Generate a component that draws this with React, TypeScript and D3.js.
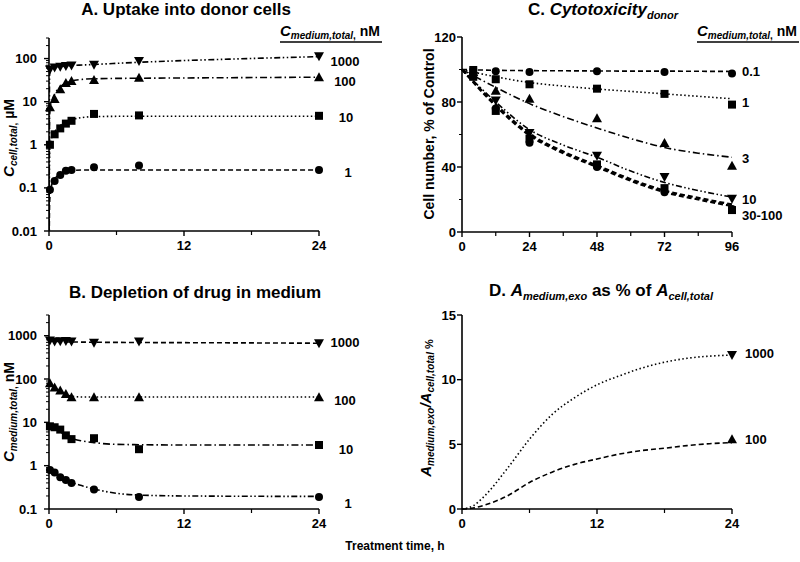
import React from "react";
import * as d3 from "d3";

const FONT = "'Liberation Sans', Arial, Helvetica, sans-serif";

// sampling times (h) for panels A and B
const timesAB = [0.083, 0.5, 1, 1.5, 2, 4, 8, 24];
// A. uptake into donor cells, C cell,total (uM)
const uptake1 = [0.09, 0.145, 0.2, 0.25, 0.26, 0.3, 0.33, 0.26];
const uptake10 = [1.0, 1.75, 2.4, 3.1, 3.6, 5.2, 4.8, 4.7];
const uptake100 = [7.4, 11.5, 19.5, 27, 30, 32, 36, 37];
const uptake1000 = [56, 62, 65, 67, 69, 72, 88, 113];
// fitted lines for A
const fitTimeA = [0, 0.05, 0.1, 0.25, 0.5, 1, 1.5, 2, 3, 4, 8, 12, 16, 20, 24];
const fitA1 = [0.001, 0.04, 0.07, 0.12, 0.16, 0.21, 0.24, 0.25, 0.26, 0.26, 0.26, 0.26, 0.26, 0.26, 0.26];
const fitA10 = [0.001, 0.6, 1.0, 1.5, 2.0, 2.8, 3.4, 3.8, 4.3, 4.5, 4.6, 4.6, 4.6, 4.6, 4.6];
const fitA100 = [0.001, 4, 7, 10.5, 15, 22, 27, 30, 33, 34, 35, 35.5, 36, 36.5, 37];
const fitA1000 = [0.001, 40, 52, 58, 62, 65, 67, 69, 71, 73, 82, 90, 97, 104, 111];

// B. depletion in medium, C medium,total (nM)
const medium1000 = [770, 730, 745, 750, 730, 690, 730, 670];
const medium100 = [80, 64, 54, 45, 38, 38, 38, 38];
const medium10 = [8.1, 7.7, 6.8, 5.0, 4.1, 4.3, 2.4, 3.0];
const medium1 = [0.79, 0.7, 0.54, 0.47, 0.4, 0.28, 0.19, 0.19];
const fitTimeB = [0, 0.5, 1, 1.5, 2, 3, 4, 6, 8, 12, 24];
const fitB1000 = [760, 740, 730, 720, 715, 710, 705, 700, 695, 690, 670];
const fitB100 = [84, 64, 52, 44, 40, 38.5, 38.5, 38.5, 38.5, 38.5, 38.5];
const fitB10 = [8.6, 7.2, 6.0, 5.0, 4.3, 3.7, 3.4, 3.1, 3.05, 3.0, 3.0];
const fitB1 = [0.85, 0.7, 0.58, 0.49, 0.42, 0.34, 0.29, 0.23, 0.21, 0.2, 0.195];

// C. cytotoxicity, cell number % of control
const timesC = [4, 12, 24, 48, 72, 96];
const cyto01 = [99.7, 99, 98.5, 99, 98.5, 97.5];
const cyto1 = [99.7, 94, 90.9, 88.2, 85, 78.4];
const cyto3 = [98.5, 87, 82, 70, 54.8, 40.8];
const cyto10 = [96, 81, 61, 47, 33.8, 20.5];
const cyto30 = [96.5, 76, 55, 40, 24.5, 14.2];
const cyto100 = [95.5, 74.5, 57.5, 41.6, 27, 13.5];
const fitTimeC = [0, 12, 24, 36, 48, 60, 72, 84, 96];
const fitC01 = [100, 99.5, 99.3, 99.2, 99.1, 99, 99, 98.9, 98.8];
const fitC1 = [100, 95.5, 92, 89.8, 88, 86.5, 85, 83.5, 82];
const fitC3 = [100, 89, 79, 71, 64, 57.5, 52, 48.5, 46];
const fitC10 = [100, 80, 63, 53.5, 46, 37.5, 30.5, 25.5, 21.5];
const fitC30 = [100, 78.5, 60.5, 49.5, 41, 32.5, 25.5, 21, 17];
const fitC100 = [100, 77.5, 59.5, 48.5, 40, 31.5, 24.5, 20, 16];

// D. A medium,exo as % of A cell,total
const timesD = [24];
const exo1000 = [11.9];
const exo100 = [5.4];
const fitTimeD = [0, 1, 2, 4, 6, 8, 10, 12, 14, 16, 18, 20, 22, 24];
const fitD1000 = [0, 0.25, 1.0, 3.1, 5.4, 7.3, 8.6, 9.6, 10.3, 10.9, 11.35, 11.65, 11.82, 11.9];
const fitD100 = [0, 0.08, 0.3, 1.0, 2.05, 2.85, 3.45, 3.87, 4.25, 4.52, 4.7, 4.9, 5.05, 5.13];

const DASH: Record<string, string> = {
  dashed: "5,3",
  dotted: "1.5,2.5",
  dashDot: "7,3,1.5,3",
  dashDotDot: "6,2.5,1.5,2.5,1.5,2.5",
};

type Shape = "circle" | "square" | "up" | "down";

function Marker({ shape, x, y }: { shape: Shape; x: number; y: number }) {
  if (shape === "circle") return <circle cx={x} cy={y} r={4} fill="#000" />;
  if (shape === "square") return <rect x={x - 4} y={y - 4} width={8} height={8} fill="#000" />;
  if (shape === "up")
    return <path d={`M${x},${y - 5}L${x + 5},${y + 4}L${x - 5},${y + 4}Z`} fill="#000" />;
  return <path d={`M${x},${y + 5}L${x + 5},${y - 4}L${x - 5},${y - 4}Z`} fill="#000" />;
}

function Points({ xs, ys, t, v, shape }: any) {
  return (
    <g>
      {t.map((tt: number, i: number) => (
        <Marker key={i} shape={shape} x={xs(tt)} y={ys(v[i])} />
      ))}
    </g>
  );
}

function FitLine({ xs, ys, t, v, dash, width = 1.6, clip }: any) {
  const line = d3
    .line<number>()
    .x((_, i) => xs(t[i]))
    .y((d) => ys(d))
    .curve(d3.curveMonotoneX);
  return (
    <path
      d={line(v) || ""}
      fill="none"
      stroke="#000"
      strokeWidth={width}
      strokeDasharray={DASH[dash]}
      clipPath={clip ? `url(#${clip})` : undefined}
    />
  );
}

function XAxis({ xs, y, major, minor }: any) {
  const [a, b] = xs.range();
  return (
    <g>
      <line x1={a} x2={b} y1={y} y2={y} stroke="#000" strokeWidth={1.6} />
      {major.map((m: number) => (
        <g key={"M" + m}>
          <line x1={xs(m)} x2={xs(m)} y1={y} y2={y + 5} stroke="#000" strokeWidth={1.4} />
          <text x={xs(m)} y={y + 19} textAnchor="middle" fontSize={13} fontWeight="bold">
            {m}
          </text>
        </g>
      ))}
      {minor.map((m: number) => (
        <line key={"m" + m} x1={xs(m)} x2={xs(m)} y1={y} y2={y + 4} stroke="#000" strokeWidth={1.2} />
      ))}
    </g>
  );
}

function YAxis({ ys, x, major, minor, labelX }: any) {
  const [a, b] = ys.range();
  return (
    <g>
      <line x1={x} x2={x} y1={a} y2={b} stroke="#000" strokeWidth={1.6} />
      {major.map((m: number) => (
        <g key={"M" + m}>
          <line x1={x - 5} x2={x} y1={ys(m)} y2={ys(m)} stroke="#000" strokeWidth={1.4} />
          <text x={labelX} y={ys(m) + 4.5} textAnchor="end" fontSize={13} fontWeight="bold">
            {m}
          </text>
        </g>
      ))}
      {minor.map((m: number) => (
        <line key={"m" + m} x1={x - 3} x2={x} y1={ys(m)} y2={ys(m)} stroke="#000" strokeWidth={1} />
      ))}
    </g>
  );
}

function logMinors(lo: number, hi: number) {
  const out: number[] = [];
  for (let d = lo; d < hi; d *= 10) {
    for (let k = 2; k <= 9; k++) {
      const v = +(k * d).toPrecision(3);
      if (v <= hi) out.push(v);
    }
  }
  return out;
}

function LegendHeader({ x, y }: { x: number; y: number }) {
  return (
    <g>
      <text x={x} y={y} fontWeight="bold">
        <tspan fontSize={15} fontStyle="italic">C</tspan>
        <tspan fontSize={10} fontStyle="italic" dy={3}>medium,total</tspan>
        <tspan fontSize={10} dy={0}>,</tspan>
        <tspan fontSize={14} dy={-3}> nM</tspan>
      </text>
      <line x1={x} x2={x + 102} y1={y + 6} y2={y + 6} stroke="#000" strokeWidth={1.6} />
    </g>
  );
}

export default function App() {
  const xA = d3.scaleLinear().domain([0, 24]).range([49, 319]);
  const yA = d3.scaleLog().domain([0.01, 300]).range([231, 38]);
  const xB = d3.scaleLinear().domain([0, 24]).range([49, 319]);
  const yB = d3.scaleLog().domain([0.1, 3000]).range([509, 315]);
  const xC = d3.scaleLinear().domain([0, 96]).range([462, 732]);
  const yC = d3.scaleLinear().domain([0, 120]).range([232, 37]);
  const xD = d3.scaleLinear().domain([0, 24]).range([462, 732]);
  const yD = d3.scaleLinear().domain([0, 15]).range([509, 315]);

  const lbl = { fontSize: 13, fontWeight: "bold" as const };

  return (
    <svg
      width={800}
      height={562}
      style={{ position: "absolute", left: 0, top: 0, background: "#fff" }}
      fontFamily={FONT}
    >
      <defs>
        <clipPath id="clipA">
          <rect x={49} y={30} width={280} height={201} />
        </clipPath>
        <clipPath id="clipB">
          <rect x={49} y={305} width={280} height={204} />
        </clipPath>
      </defs>

      {/* Panel A */}
      <text x={186} y={15} textAnchor="middle" fontSize={17} fontWeight="bold">
        A. Uptake into donor cells
      </text>
      <LegendHeader x={280} y={36} />
      <XAxis xs={xA} y={231} major={[0, 12, 24]} minor={[6, 18]} />
      <YAxis ys={yA} x={49} major={[0.01, 0.1, 1, 10, 100]} minor={logMinors(0.01, 300)} labelX={37} />
      <text transform="translate(14,138) rotate(-90)" textAnchor="middle" fontWeight="bold">
        <tspan fontSize={15} fontStyle="italic">C</tspan>
        <tspan fontSize={10} fontStyle="italic" dy={3}>cell,total</tspan>
        <tspan fontSize={10} dy={0}>,</tspan>
        <tspan fontSize={14} dy={-3}> µM</tspan>
      </text>
      <FitLine xs={xA} ys={yA} t={fitTimeA} v={fitA1} dash="dashed" clip="clipA" />
      <FitLine xs={xA} ys={yA} t={fitTimeA} v={fitA10} dash="dotted" clip="clipA" />
      <FitLine xs={xA} ys={yA} t={fitTimeA} v={fitA100} dash="dashDot" clip="clipA" />
      <FitLine xs={xA} ys={yA} t={fitTimeA} v={fitA1000} dash="dashDotDot" clip="clipA" />
      <Points xs={xA} ys={yA} t={timesAB} v={uptake1} shape="circle" />
      <Points xs={xA} ys={yA} t={timesAB} v={uptake10} shape="square" />
      <Points xs={xA} ys={yA} t={timesAB} v={uptake100} shape="up" />
      <Points xs={xA} ys={yA} t={timesAB} v={uptake1000} shape="down" />
      <text x={345} y={66} textAnchor="middle" {...lbl}>1000</text>
      <text x={345} y={86} textAnchor="middle" {...lbl}>100</text>
      <text x={346} y={122} textAnchor="middle" {...lbl}>10</text>
      <text x={348} y={177} textAnchor="middle" {...lbl}>1</text>

      {/* Panel B */}
      <text x={195} y={298} textAnchor="middle" fontSize={17} fontWeight="bold">
        B. Depletion of drug in medium
      </text>
      <XAxis xs={xB} y={509} major={[0, 12, 24]} minor={[6, 18]} />
      <YAxis ys={yB} x={49} major={[0.1, 1, 10, 100, 1000]} minor={logMinors(0.1, 3000)} labelX={37} />
      <text transform="translate(14,412) rotate(-90)" textAnchor="middle" fontWeight="bold">
        <tspan fontSize={15} fontStyle="italic">C</tspan>
        <tspan fontSize={10} fontStyle="italic" dy={3}>medium,total</tspan>
        <tspan fontSize={10} dy={0}>,</tspan>
        <tspan fontSize={14} dy={-3}> nM</tspan>
      </text>
      <FitLine xs={xB} ys={yB} t={fitTimeB} v={fitB1000} dash="dashed" clip="clipB" />
      <FitLine xs={xB} ys={yB} t={fitTimeB} v={fitB100} dash="dotted" clip="clipB" />
      <FitLine xs={xB} ys={yB} t={fitTimeB} v={fitB10} dash="dashDot" clip="clipB" />
      <FitLine xs={xB} ys={yB} t={fitTimeB} v={fitB1} dash="dashDotDot" clip="clipB" />
      <Points xs={xB} ys={yB} t={timesAB} v={medium1000} shape="down" />
      <Points xs={xB} ys={yB} t={timesAB} v={medium100} shape="up" />
      <Points xs={xB} ys={yB} t={timesAB} v={medium10} shape="square" />
      <Points xs={xB} ys={yB} t={timesAB} v={medium1} shape="circle" />
      <text x={345} y={347} textAnchor="middle" {...lbl}>1000</text>
      <text x={345} y={405} textAnchor="middle" {...lbl}>100</text>
      <text x={346} y={454} textAnchor="middle" {...lbl}>10</text>
      <text x={348} y={508} textAnchor="middle" {...lbl}>1</text>

      {/* Panel C */}
      <text x={603} y={15} textAnchor="middle" fontSize={17} fontWeight="bold">
        <tspan>C. </tspan>
        <tspan fontStyle="italic">Cytotoxicity</tspan>
        <tspan fontStyle="italic" fontSize={11} dy={4}>donor</tspan>
      </text>
      <LegendHeader x={697} y={36} />
      <XAxis xs={xC} y={232} major={[0, 24, 48, 72, 96]} minor={[12, 36, 60, 84]} />
      <YAxis ys={yC} x={462} major={[0, 40, 80, 120]} minor={[20, 60, 100]} labelX={456} />
      <text
        transform="translate(434,134) rotate(-90)"
        textAnchor="middle"
        fontSize={14}
        fontWeight="bold"
      >
        Cell number, % of Control
      </text>
      <FitLine xs={xC} ys={yC} t={fitTimeC} v={fitC01} dash="dashed" />
      <FitLine xs={xC} ys={yC} t={fitTimeC} v={fitC1} dash="dotted" />
      <FitLine xs={xC} ys={yC} t={fitTimeC} v={fitC3} dash="dashDot" />
      <FitLine xs={xC} ys={yC} t={fitTimeC} v={fitC10} dash="dashDotDot" />
      <FitLine xs={xC} ys={yC} t={fitTimeC} v={fitC30} dash="dashed" width={2.2} />
      <FitLine xs={xC} ys={yC} t={fitTimeC} v={fitC100} dash="dashed" width={2.2} />
      <Points xs={xC} ys={yC} t={timesC} v={cyto01} shape="circle" />
      <Points xs={xC} ys={yC} t={timesC} v={cyto1} shape="square" />
      <Points xs={xC} ys={yC} t={timesC} v={cyto3} shape="up" />
      <Points xs={xC} ys={yC} t={timesC} v={cyto10} shape="down" />
      <Points xs={xC} ys={yC} t={timesC} v={cyto30} shape="circle" />
      <Points xs={xC} ys={yC} t={timesC} v={cyto100} shape="square" />
      <text x={742} y={76} {...lbl}>0.1</text>
      <text x={742} y={107} {...lbl}>1</text>
      <text x={742} y={163} {...lbl}>3</text>
      <text x={742} y={204} {...lbl}>10</text>
      <text x={742} y={220} {...lbl}>30-100</text>

      {/* Panel D */}
      <text x={601} y={296} textAnchor="middle" fontSize={17} fontWeight="bold">
        <tspan>D. </tspan>
        <tspan fontStyle="italic">A</tspan>
        <tspan fontStyle="italic" fontSize={11} dy={4}>medium,exo</tspan>
        <tspan dy={-4}> as % of </tspan>
        <tspan fontStyle="italic">A</tspan>
        <tspan fontStyle="italic" fontSize={11} dy={4}>cell,total</tspan>
      </text>
      <XAxis xs={xD} y={509} major={[0, 12, 24]} minor={[6, 18]} />
      <YAxis ys={yD} x={462} major={[0, 5, 10, 15]} minor={[]} labelX={456} />
      <text transform="translate(431,408) rotate(-90)" textAnchor="middle" fontWeight="bold">
        <tspan fontSize={15} fontStyle="italic">A</tspan>
        <tspan fontSize={10} fontStyle="italic" dy={3}>medium,exo</tspan>
        <tspan fontSize={15} fontStyle="italic" dy={-3}>/A</tspan>
        <tspan fontSize={10} fontStyle="italic" dy={3}>cell,total</tspan>
        <tspan fontSize={11} dy={-1}> %</tspan>
      </text>
      <FitLine xs={xD} ys={yD} t={fitTimeD} v={fitD1000} dash="dotted" />
      <FitLine xs={xD} ys={yD} t={fitTimeD} v={fitD100} dash="dashed" />
      <Points xs={xD} ys={yD} t={timesD} v={exo1000} shape="down" />
      <Points xs={xD} ys={yD} t={timesD} v={exo100} shape="up" />
      <text x={745} y={358} {...lbl}>1000</text>
      <text x={745} y={444} {...lbl}>100</text>

      <text x={395} y={550} textAnchor="middle" fontSize={12} fontWeight="bold">
        Treatment time, h
      </text>
    </svg>
  );
}
